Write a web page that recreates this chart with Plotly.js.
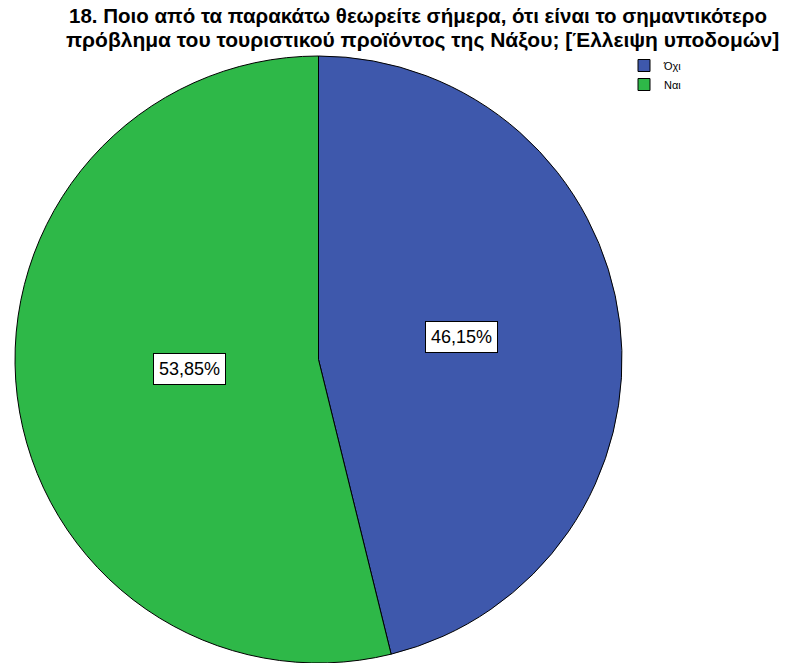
<!DOCTYPE html>
<html>
<head>
<meta charset="utf-8">
<script src="https://cdn.plot.ly/plotly-3.0.1.min.js"></script>
<style>html,body{margin:0;padding:0;background:#fff;}#chart{width:794px;height:663px;}</style>
</head>
<body>
<div id="chart"></div>
<script>
const categories = ["Όχι", "Ναι"];
const counts = [6, 7];
const colors = ["#3E58AC", "#2EB848"];
const titleLines = [
  "18. Ποιο από τα παρακάτω θεωρείτε σήμερα, ότι είναι το σημαντικότερο",
  "πρόβλημα του τουριστικού προϊόντος της Νάξου; [Έλλειψη υποδομών]"
];

const W = 794, H = 663;
const domX = [14.5 / W, 622.5 / W];
const domY = [0, 1 - 56 / H];
const FONT = 'Liberation Sans, Arial, sans-serif';

const total = counts.reduce((a, b) => a + b, 0);
const pct = counts.map(v => v / total * 100);
const fmt = p => p.toFixed(2).replace('.', ',') + '%';

// label positions derived from the slice angles (clockwise from 12 o'clock)
const cxPx = (domX[0] + domX[1]) / 2 * W;
const cyPx = (1 - (domY[0] + domY[1]) / 2) * H;
const R = Math.min((domX[1] - domX[0]) * W, (domY[1] - domY[0]) * H) / 2;
let cum = 0;
const annotations = counts.map((v, i) => {
  const mid = (cum + v / 2) / total * 2 * Math.PI;
  cum += v;
  const r = 0.45 * R;
  const px = cxPx + r * Math.sin(mid);
  const py = cyPx - r * Math.cos(mid);
  return {
    x: px / W, y: 1 - py / H, xref: 'paper', yref: 'paper',
    xshift: 7, yshift: 6.5,
    text: fmt(pct[i]), showarrow: false,
    font: {family: FONT, size: 18, color: '#000'},
    bgcolor: '#ffffff', bordercolor: '#000000', borderwidth: 1, borderpad: 5,
    xanchor: 'center', yanchor: 'middle'
  };
});

// second title line
annotations.push({
  x: 422 / W, y: 1 - 40 / H, xref: 'paper', yref: 'paper',
  xanchor: 'center', yanchor: 'middle', showarrow: false,
  text: '<b>' + titleLines[1] + '</b>',
  font: {family: FONT, size: 21, color: '#000'}
});

const data = [{
  type: 'pie',
  labels: categories,
  values: counts,
  sort: false,
  direction: 'clockwise',
  rotation: 0,
  textinfo: 'none',
  hoverinfo: 'label+percent',
  marker: {colors: colors, line: {color: '#000000', width: 1}},
  domain: {x: domX, y: domY}
}];

const layout = {
  width: W, height: H,
  margin: {l: 0, r: 0, t: 0, b: 0},
  paper_bgcolor: '#fff',
  title: {
    text: '<b>' + titleLines[0] + '</b>',
    x: 418 / W, xanchor: 'center', xref: 'paper',
    y: 1 - 16 / H, yanchor: 'middle', yref: 'container',
    font: {family: FONT, size: 20.5, color: '#000'}
  },
  showlegend: true,
  legend: {
    x: 624 / W, xanchor: 'left', y: 1 - 51 / H, yanchor: 'top',
    font: {family: FONT, size: 11, color: '#000'},
    tracegroupgap: 0, itemwidth: 30, bgcolor: 'rgba(0,0,0,0)'
  },
  annotations: annotations
};

Plotly.newPlot('chart', data, layout, {displayModeBar: false});
</script>
</body>
</html>
